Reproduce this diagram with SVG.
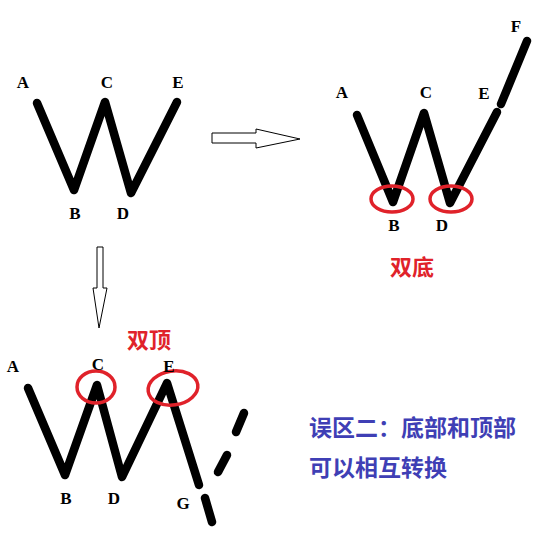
<svg xmlns="http://www.w3.org/2000/svg" width="554" height="552" viewBox="0 0 554 552">
<style>
.ln{fill:none;stroke:#000;stroke-width:8.5;stroke-linecap:round;stroke-linejoin:round}
.lb{font-family:"Liberation Serif",serif;font-size:17px;font-weight:bold;fill:#000;text-anchor:middle}
.ring{fill:none;stroke:#e0222a;stroke-width:3.5}
.ar{fill:#fff;stroke:#000;stroke-width:1}
.red{font-family:"Noto Sans CJK SC",sans-serif;font-weight:bold;font-size:22px;fill:#e0222a;text-anchor:middle}
.blue{font-family:"Noto Sans CJK SC",sans-serif;font-weight:bold;font-size:23px;fill:#3f3fb5}
</style>
<rect width="554" height="552" fill="#fff"/>
<g id="w1">
<polyline class="ln" points="37,103 74,190 105,102 131,193 177,102"/>
<text class="lb" x="23" y="88">A</text>
<text class="lb" x="107" y="88">C</text>
<text class="lb" x="178" y="88">E</text>
<text class="lb" x="75" y="219">B</text>
<text class="lb" x="123" y="219">D</text>
</g>
<g id="w2">
<polyline class="ln" points="357,115 393,202 424,113 450,203 497,112"/>
<line class="ln" x1="501" y1="104" x2="527" y2="41"/>
<ellipse class="ring" cx="392" cy="199" rx="21" ry="13"/>
<ellipse class="ring" cx="451" cy="199" rx="21" ry="13"/>
<text class="lb" x="342" y="98">A</text>
<text class="lb" x="426" y="98">C</text>
<text class="lb" x="484" y="99">E</text>
<text class="lb" x="516" y="32">F</text>
<text class="lb" x="394" y="231">B</text>
<text class="lb" x="442" y="231">D</text>
<text class="red" x="412" y="275">双底</text>
</g>
<g id="w3">
<polyline class="ln" points="28,388 65,475 97,385 122,477 167,383 199,485"/>
<ellipse class="ring" cx="96" cy="387" rx="19" ry="16"/>
<ellipse class="ring" cx="173" cy="388" rx="25" ry="17" transform="rotate(-8 173 388)"/>
<text class="lb" x="13" y="372">A</text>
<text class="lb" x="98" y="370">C</text>
<text class="lb" x="169" y="372">E</text>
<text class="lb" x="66" y="504">B</text>
<text class="lb" x="114" y="504">D</text>
<text class="lb" x="183" y="509">G</text>
<text class="red" x="149" y="348">双顶</text>
</g>
<g id="dashes">
<line class="ln" x1="205" y1="498" x2="212" y2="522"/>
<line class="ln" x1="218" y1="472" x2="227" y2="455"/>
<line class="ln" x1="236" y1="432" x2="244" y2="413"/>
</g>
<g id="connectors">
<polygon class="ar" points="212,133 256,133 256,129 300,139 256,148 256,143 212,143"/>
<polygon class="ar" points="97,247 103,247 103,288 107,288 99,328 93,288 97,288"/>
</g>
<g id="note">
<text class="blue" x="309" y="436">误区二：底部和顶部</text>
<text class="blue" x="309" y="476">可以相互转换</text>
</g>
</svg>
